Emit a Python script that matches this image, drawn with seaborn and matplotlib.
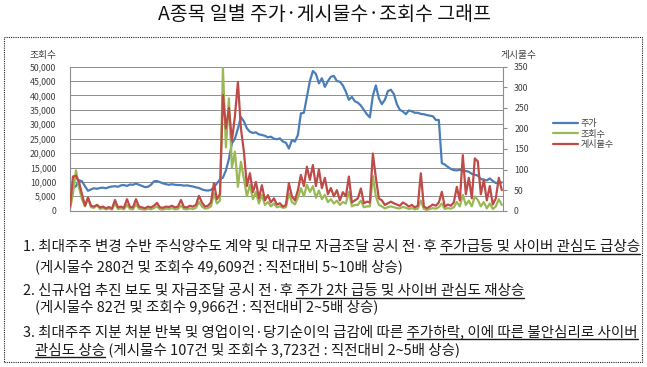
import numpy as np
import pandas as pd
import matplotlib
matplotlib.use("Agg")
import matplotlib.pyplot as plt
import seaborn as sns
from matplotlib.patches import Rectangle
from matplotlib.lines import Line2D

# ---------------- data ----------------
title = "A종목 일별 주가·게시물수·조회수 그래프"
series_names = ["주가", "조회수", "게시물수"]
left_axis_title = "조회수"
right_axis_title = "게시물수"
left_ticks = [0, 5000, 10000, 15000, 20000, 25000, 30000, 35000, 40000, 45000, 50000]
right_ticks = [0, 50, 100, 150, 200, 250, 300, 350]

price = [
    8000, 7800, 8500, 10600, 10200, 8500, 6900, 7400, 7800, 7600,
    7900, 8000, 7800, 8200, 8400, 8500, 8300, 8800, 8900, 8600,
    9100, 9000, 9400, 9000, 8600, 8200, 8300, 9000, 10200, 10300,
    9900, 9500, 9200, 9000, 9200, 9000, 8900, 8900, 8700, 8800,
    8600, 8400, 8100, 7900, 7400, 7100, 7000, 7200, 8200, 9500,
    10800, 11500, 14000, 18000, 23400, 25000, 28500, 32500, 31000, 28600,
    27400, 27000, 27200, 26500, 26300, 26000, 25500, 25700, 25000, 24800,
    25100, 24000, 23600, 21600, 24500, 24000, 26300, 33800, 34000, 39500,
    45000, 48500, 47500, 44200, 46000, 43000, 45000, 46500, 46800, 45000,
    44800, 43500, 41300, 38500, 39500, 38000, 37500, 36500, 35000, 33500,
    32400, 40000, 43500, 39000, 37000, 38500, 41500, 42000, 40500, 37000,
    35000, 34500, 33500, 34800, 34500, 34000, 34000, 33600, 33500, 33200,
    33000, 32800, 31500, 31500, 16500, 16000, 15200, 14500, 14100, 14000,
    14200, 13900, 13800, 13500, 12800, 12500, 12200, 11000, 10800, 10500,
    11200, 10300, 9600, 9800, 9800,
]

views = [
    500, 6000, 14000, 8000, 4000, 1500, 4500, 1200, 1000, 2000,
    600, 900, 500, 800, 400, 2500, 600, 800, 500, 2000,
    600, 500, 2200, 700, 500, 400, 700, 500, 900, 1500,
    500, 400, 700, 600, 900, 500, 600, 1800, 600, 500,
    800, 600, 1000, 3000, 1500, 700, 900, 1500, 6000, 2500,
    3500, 49609, 22000, 39000, 15000, 20500, 8300, 17000, 11000, 5000,
    9000, 4000, 6500, 2500, 5500, 2000, 3000, 1500, 2500, 1200,
    1500, 1000, 1200, 6000, 3000, 2200, 4500, 7800, 5000, 9000,
    6500, 8500, 4500, 7000, 4000, 5500, 3000, 4000, 2500, 3500,
    2000, 3000, 2500, 6500, 1500, 2000, 2000, 3500, 1200, 1500,
    1500, 12000, 5000, 2000, 1500, 800, 1200, 1500, 1200, 900,
    800, 1300, 1000, 600, 900, 500, 700, 3500, 600, 300,
    600, 900, 700, 1200, 2500, 600, 900, 700, 1200, 3000,
    1500, 5500, 2000, 3500, 1500, 5000, 3723, 1500, 3000, 800,
    2500, 600, 1500, 4000, 2000,
]

posts = [
    10, 83, 85, 70, 40, 12, 32, 12, 10, 14,
    8, 10, 6, 9, 5, 26, 8, 10, 7, 28,
    9, 8, 28, 10, 8, 6, 10, 8, 12, 19,
    8, 7, 10, 9, 12, 8, 10, 26, 9, 8,
    12, 10, 14, 36, 20, 10, 12, 20, 67, 28,
    40, 281, 200, 250, 170, 230, 313, 200, 143, 60,
    91, 45, 70, 30, 62, 25, 38, 20, 30, 15,
    18, 10, 14, 67, 35, 25, 50, 87, 60, 107,
    75, 111, 60, 100, 55, 80, 40, 55, 35, 50,
    25, 45, 35, 83, 20, 25, 30, 54, 18, 22,
    20, 139, 80, 30, 25, 14, 18, 22, 18, 15,
    12, 20, 16, 10, 14, 8, 12, 91, 10, 6,
    10, 15, 12, 20, 46, 10, 15, 12, 20, 58,
    25, 135, 40, 80, 30, 127, 120, 40, 75, 25,
    60, 15, 30, 80, 50,
]

notes = [
    ("1. 최대주주 변경 수반 주식양수도 계약 및 대규모 자금조달 공시 전·후 ", "주가급등 및 사이버 관심도 급상승", ""),
    ("(게시물수 280건 및 조회수 49,609건 : 직전대비 5~10배 상승)", "", ""),
    ("2. 신규사업 추진 보도 및 자금조달 공시 전·후 ", "주가 2차 급등 및 사이버 관심도 재상승", ""),
    ("(게시물수 82건 및 조회수 9,966건 : 직전대비 2~5배 상승)", "", ""),
    ("3. 최대주주 지분 처분 반복 및 영업이익·당기순이익 급감에 따른 ", "주가하락, 이에 따른 불안심리로 사이버", ""),
    ("", "관심도 상승", " (게시물수 107건 및 조회수 3,723건 : 직전대비 2~5배 상승)"),
]

# ---------------- style ----------------
sns.set_theme(style="white")
plt.rcParams['font.family'] = ['Noto Sans CJK KR', 'DejaVu Sans']

W, H = 647, 367
fig = plt.figure(figsize=(W / 100, H / 100), dpi=100)
fig.patch.set_facecolor("white")


def fx(px):
    return px / W


def fy(py):
    return 1 - py / H


C_BLUE, C_GREEN, C_RED = "#4A7EBB", "#98B954", "#BE4B48"
GRID = "#8E8E8E"
TICK_C = "#404040"

n = len(price)
df = pd.DataFrame({"day": np.arange(n), "price": price,
                   "views": views[:n], "posts": posts[:n]})

ax = fig.add_axes([fx(70), fy(210.7), (503 - 70) / W, (210.7 - 66.7) / H])
sns.lineplot(data=df, x="day", y="price", ax=ax, color=C_BLUE, lw=1.6, legend=False)
sns.lineplot(data=df, x="day", y="views", ax=ax, color=C_GREEN, lw=1.6, legend=False)
ax2 = ax.twinx()
sns.lineplot(data=df, x="day", y="posts", ax=ax2, color=C_RED, lw=1.6, legend=False)

ax.set_xlim(0, n - 1 + 0.4)
ax.set_ylim(0, 50000)
ax.set_yticks(left_ticks)
ax.set_yticklabels([f"{v:,}" for v in left_ticks])
ax.set_xticks([])
ax.set_xlabel("")
ax.set_ylabel("")
ax.grid(axis="y", color=GRID, lw=0.7)
ax.grid(axis="x", visible=False)
ax.set_axisbelow(True)
ax.tick_params(axis="y", length=0, pad=10, labelsize=6.3, labelcolor=TICK_C)
for s in ["top", "right"]:
    ax.spines[s].set_visible(False)
for s in ["left", "bottom"]:
    ax.spines[s].set_color(GRID)
    ax.spines[s].set_linewidth(0.8)

ax2.set_ylim(0, 350)
ax2.set_yticks(right_ticks)
ax2.set_yticklabels([str(v) for v in right_ticks])
ax2.set_ylabel("")
ax2.grid(False)
ax2.tick_params(axis="y", length=3, width=0.8, color=GRID, pad=5, labelsize=6.3, labelcolor=TICK_C)
for s in ["top", "left", "bottom"]:
    ax2.spines[s].set_visible(False)
ax2.spines["right"].set_color(GRID)
ax2.spines["right"].set_linewidth(0.8)

# axis titles
fig.text(fx(43.5), fy(55), left_axis_title, ha="center", va="center", fontsize=7, color=TICK_C)
fig.text(fx(519), fy(55), right_axis_title, ha="center", va="center", fontsize=7, color=TICK_C)

# legend
handles = [Line2D([], [], color=C_BLUE, lw=1.6),
           Line2D([], [], color=C_GREEN, lw=1.6),
           Line2D([], [], color=C_RED, lw=1.6)]
leg = fig.legend(handles, series_names, loc="center left",
                 bbox_to_anchor=(fx(553), fy(134)), frameon=False, fontsize=6.5,
                 handlelength=2.8, labelspacing=0.2, handletextpad=0.3,
                 borderaxespad=0, borderpad=0)
for t in leg.get_texts():
    t.set_color(TICK_C)

# dotted border
fig.add_artist(Rectangle((fx(4), fy(362)), (642 - 4) / W, (362 - 37) / H,
                         transform=fig.transFigure, fill=False, ec="#222222",
                         lw=0.8, ls=(0, (1, 1))))

fig.canvas.draw()
renderer = fig.canvas.get_renderer()


def width_px(s, fs):
    if s == "":
        return 0.0
    t = fig.text(0, 0, s + "|", fontsize=fs)
    w1 = t.get_window_extent(renderer).width
    t.remove()
    t = fig.text(0, 0, "|", fontsize=fs)
    w2 = t.get_window_extent(renderer).width
    t.remove()
    return w1 - w2


# title fitted to its width
t_fs = 10.0
tw = width_px(title, t_fs)
t_fs = t_fs * 332 / tw
fig.text(fx(324), fy(15), title, ha="center", va="center", fontsize=t_fs, color="#111111")

# note text: fit line 1 to width
n_fs = 10.0
full1 = notes[0][0] + notes[0][1]
n_fs = n_fs * (638 - 23) / width_px(full1, n_fs)

baselines = [251, 271, 295, 311, 336, 354]
xstarts = [23, 35, 23, 35, 23, 35]
TXT = "#1a1a1a"
for (pre, und, post), yb, x0 in zip(notes, baselines, xstarts):
    full = pre + und + post
    fig.text(fx(x0), fy(yb), full, ha="left", va="baseline", fontsize=n_fs, color=TXT)
    if und:
        ux0 = x0 + width_px(pre, n_fs)
        ux1 = x0 + width_px(pre + und, n_fs)
        fig.add_artist(Line2D([fx(ux0), fx(ux1)], [fy(yb + 2.5), fy(yb + 2.5)],
                              transform=fig.transFigure, color=TXT, lw=1.0))

fig.savefig("out.png", dpi=100, facecolor="white")
